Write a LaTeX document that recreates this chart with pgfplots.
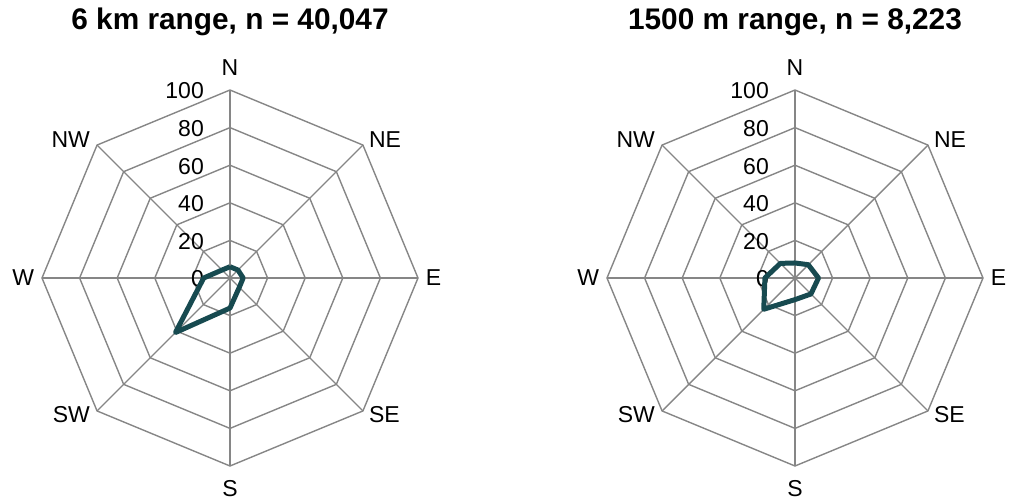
\documentclass[border=0pt]{standalone}
\usepackage{pgfplots}
\pgfplotsset{compat=1.18}
\usepgfplotslibrary{polar}
\usepackage{pgfplotstable}
\usepackage{fontspec}
\setmainfont{Liberation Sans}
\definecolor{gridc}{RGB}{134,134,134}
\definecolor{datac}{RGB}{23,74,80}

% angle (deg, N = 90, clockwise), value
\pgfplotstableread{
ang r
90 6
45 6
0 7
315 7
270 16
225 41
180 14
135 6
90 6
}\leftdata
\pgfplotstableread{
ang r
90 8
45 10
0 12.5
315 12
270 11.5
225 23.5
180 16
135 11
90 8
}\rightdata

\pgfplotsset{
  radar/.style={
    scale only axis, width=376pt, height=376pt,
    xmin=0, xmax=360, ymin=0, ymax=100,
    hide axis, clip=false, anchor=center,
  },
}
\newcommand{\lbl}{\fontsize{23}{27}\selectfont}
\newcommand{\radargrid}{%
  \pgfplotsinvokeforeach{20,40,60,80,100}{
    \addplot[gridc, line width=1.4pt] coordinates {(90,##1)(45,##1)(0,##1)(315,##1)(270,##1)(225,##1)(180,##1)(135,##1)(90,##1)};
  }
  \pgfplotsinvokeforeach{90,45,0,315,270,225,180,135}{
    \addplot[gridc, line width=1.4pt] coordinates {(##1,0)(##1,100)};
  }
  \pgfplotsinvokeforeach{0,20,40,60,80,100}{
    \node[anchor=east, xshift=-26pt, yshift=-1pt, inner sep=0pt, font=\lbl] at (axis cs:90,##1) {##1};
  }
  \node[anchor=south, inner sep=2pt, font=\lbl] at (axis cs:90,106.5) {N};
  \node[anchor=base west, inner sep=0pt, xshift=6pt, yshift=-2pt, font=\lbl] at (axis cs:45,100) {NE};
  \node[anchor=west, inner sep=2pt, font=\lbl] at (axis cs:0,103) {E};
  \node[anchor=north west, inner sep=0pt, xshift=6pt, yshift=5pt, font=\lbl] at (axis cs:315,100) {SE};
  \node[anchor=north, inner sep=2pt, font=\lbl] at (axis cs:270,106.5) {S};
  \node[anchor=north east, inner sep=0pt, xshift=-7pt, yshift=5pt, font=\lbl] at (axis cs:225,100) {SW};
  \node[anchor=east, inner sep=2pt, font=\lbl] at (axis cs:180,103) {W};
  \node[anchor=base east, inner sep=0pt, xshift=-7pt, yshift=-2pt, font=\lbl] at (axis cs:135,100) {NW};
}

\begin{document}
\begin{tikzpicture}
\useasboundingbox (0,0) rectangle (1013pt,-501pt);
\begin{polaraxis}[radar, at={(230pt,-278pt)}]
  \radargrid
  \addplot[datac, line width=5pt, line join=round] table[x=ang, y=r] {\leftdata};
\end{polaraxis}
\begin{polaraxis}[radar, at={(795pt,-278pt)}]
  \radargrid
  \addplot[datac, line width=5pt, line join=round] table[x=ang, y=r] {\rightdata};
\end{polaraxis}
\node[font=\bfseries\fontsize{29.8}{34}\selectfont] at (230pt,-22pt) {6 km range, n = 40,047};
\node[font=\bfseries\fontsize{29.8}{34}\selectfont] at (795pt,-22pt) {1500 m range, n = 8,223};
\end{tikzpicture}
\end{document}
